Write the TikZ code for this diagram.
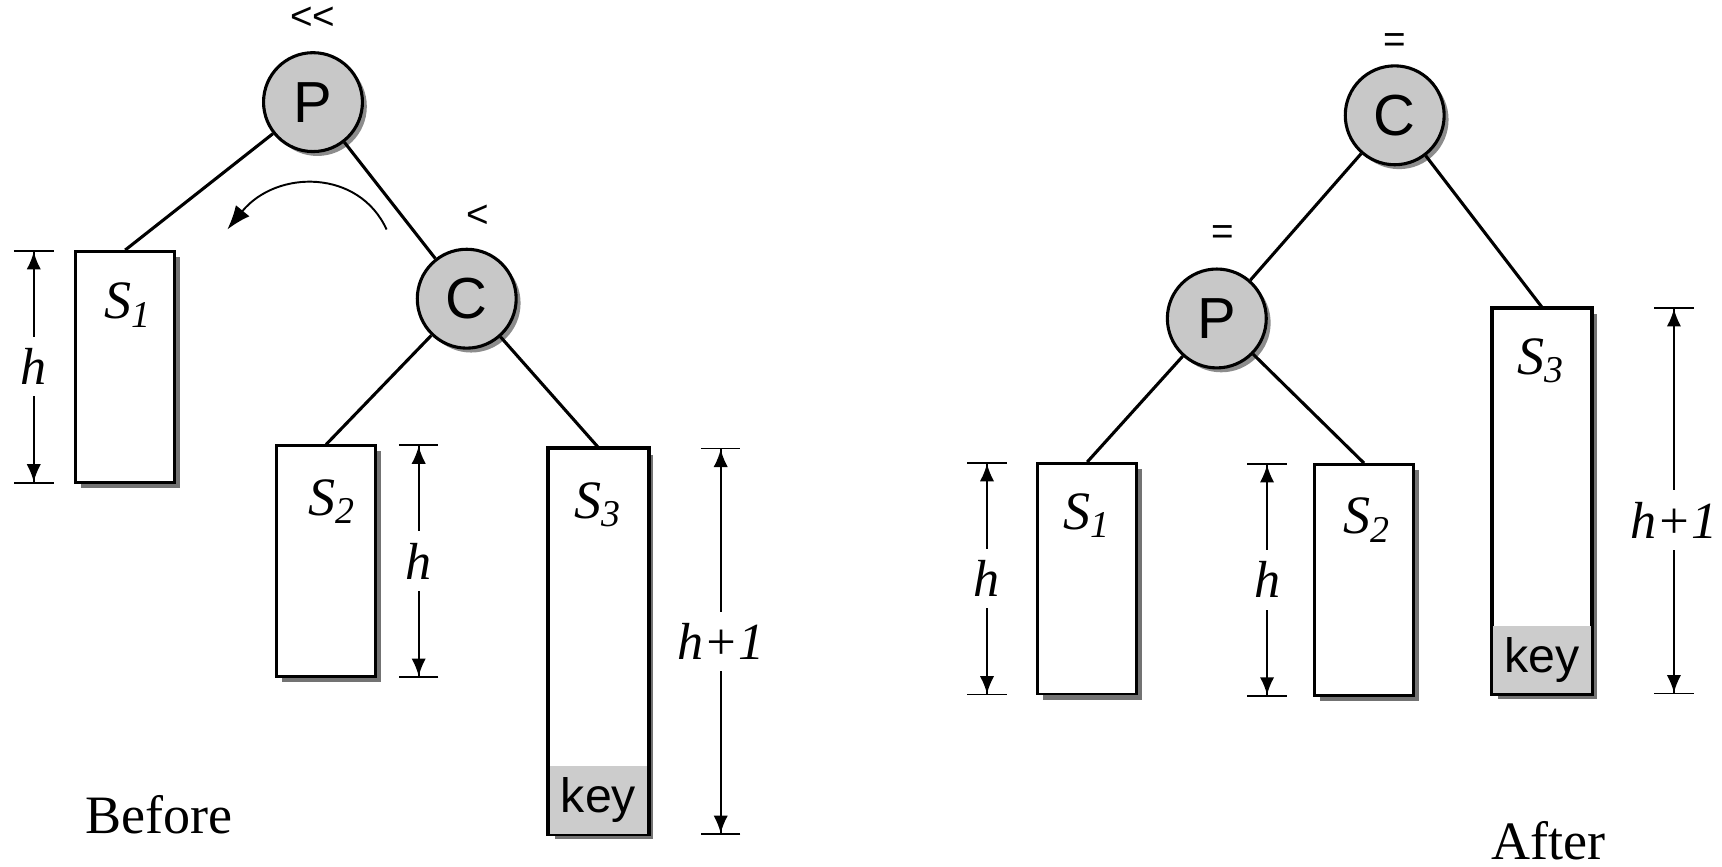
\documentclass[tikz,border=0pt]{standalone}
\usepackage{fontspec}
\setmainfont{Liberation Serif}
\setsansfont{Liberation Sans}
\usepackage{tikz}
\usetikzlibrary{arrows.meta, positioning, shadows, calc}
\definecolor{nodegray}{HTML}{C8C8C8}
\definecolor{keygray}{HTML}{CCCCCC}
\tikzset{
  treenode/.style={circle, draw=black, fill=nodegray, line width=0.8pt,
                 inner sep=0pt, minimum size=0.9cm, font=\sffamily\fontsize{15}{17}\selectfont,
                 drop shadow={shadow xshift=0.04cm, shadow yshift=-0.04cm, fill=black, opacity=0.45}},
  subtree/.style={rectangle, draw=black, fill=white, line width=0.7pt, inner sep=0pt,
                 minimum width=0.9cm,
                 drop shadow={shadow xshift=0.05cm, shadow yshift=-0.05cm, fill=black, opacity=0.55}},
  shortbox/.style={subtree, minimum height=2.1cm},
  tallbox/.style={subtree, minimum height=3.5cm},
  keypart/.style={fill=keygray, inner sep=0pt, minimum width=0.89cm, minimum height=0.62cm,
                 font=\sffamily\fontsize{12.5}{14}\selectfont},
  treename/.style={font=\itshape\fontsize{14}{16}\selectfont, inner sep=0pt},
  balance/.style={font=\sffamily\fontsize{10}{12}\selectfont, inner sep=0pt},
  edge/.style={line width=0.8pt},
  dimline/.style={line width=0.45pt,
                 {Bar[width=0.36cm]Latex[length=0.16cm,width=0.13cm]}-{Latex[length=0.16cm,width=0.13cm]Bar[width=0.36cm]}},
  dimlabel/.style={fill=white, inner xsep=1pt, inner ysep=3pt, font=\itshape\fontsize{13.5}{15}\selectfont},
  rotarrow/.style={line width=0.5pt, -{Latex[length=0.22cm,width=0.16cm]}},
  caption/.style={font=\fontsize{14}{16}\selectfont, inner sep=0pt},
}
\begin{document}
\begin{tikzpicture}[x=0.01cm, y=-0.01cm]
    \useasboundingbox (0,0) rectangle (1568,789);
    % Before: tree nodes
    \node[treenode] (Pb) at (285,93)  {P};
    \node[treenode] (Cb) at (425,272) {C};
    \node[balance, above=0.19cm of Pb] (balPb) {<{}<};
    \node[balance, above=0.18cm of Cb, xshift=0.1cm] (balCb) {<};
    % Before: subtrees
    \node[shortbox] (s1b) at (114,334) {};
    \node[shortbox] (s2b) at (297,511) {};
    \node[tallbox]  (s3b) at (545,584) {};
    \node[keypart, anchor=south] (keyb) at (s3b.south) {key};
    \draw[line width=0.7pt] (s3b.south west) rectangle (s3b.north east);
    \node[treename] (n1b) at ($(s1b.north)+(3,50)$) {S\textsubscript{1}};
    \node[treename] (n2b) at ($(s2b.north)+(6,52)$) {S\textsubscript{2}};
    \node[treename] (n3b) at ($(s3b.north)+(0,52)$) {S\textsubscript{3}};
    % Before: edges
    \draw[edge] (Pb) -- (s1b.north);
    \draw[edge] (Pb) -- (Cb);
    \draw[edge] (Cb) -- (s2b.north);
    \draw[edge] (Cb) -- (s3b.north);
    % Rotation arrow
    \coordinate (rotstart) at (352,209);
    \coordinate (rotend)   at (207,209);
    \draw[rotarrow] (rotstart) .. controls +(-25,-55) and +(45,-55) .. (rotend);
    % Before: heights
    \draw[dimline] ($(s1b.north west)+(-37,0)$) -- ($(s1b.south west)+(-37,0)$)
      node[dimlabel, midway] (hb1) {h};
    \draw[dimline] ($(s2b.north east)+(38,0)$) -- ($(s2b.south east)+(38,0)$)
      node[dimlabel, midway] (hb2) {h};
    \draw[dimline] ($(s3b.north east)+(65,0)$) -- ($(s3b.south east)+(65,0)$)
      node[dimlabel, midway] (hb3) {h+1};
    \node[caption] (before) at (145,742) {Before};

    % After: tree nodes
    \node[treenode] (Ca) at (1270,105) {C};
    \node[treenode] (Pa) at (1108,290) {P};
    \node[balance, above=0.10cm of Ca] (balCa) {=};
    \node[balance, above=0.20cm of Pa, xshift=0.05cm] (balPa) {=};
    % After: subtrees
    \node[shortbox] (s1a) at (990,527)  {};
    \node[shortbox] (s2a) at (1242,528) {};
    \node[tallbox]  (s3a) at (1404,456) {};
    \node[keypart, anchor=south] (keya) at (s3a.south) {key};
    \draw[line width=0.7pt] (s3a.south west) rectangle (s3a.north east);
    \node[treename] (n1a) at ($(s1a.north)+(0,49)$) {S\textsubscript{1}};
    \node[treename] (n2a) at ($(s2a.north)+(3,52)$) {S\textsubscript{2}};
    \node[treename] (n3a) at ($(s3a.north)+(0,49)$) {S\textsubscript{3}};
    % After: edges
    \draw[edge] (Ca) -- (Pa);
    \draw[edge] (Ca) -- (s3a.north);
    \draw[edge] (Pa) -- (s1a.north);
    \draw[edge] (Pa) -- (s2a.north);
    % After: heights
    \draw[dimline] ($(s1a.north west)+(-45,0)$) -- ($(s1a.south west)+(-45,0)$)
      node[dimlabel, midway] (ha1) {h};
    \draw[dimline] ($(s2a.north west)+(-42,0)$) -- ($(s2a.south west)+(-42,0)$)
      node[dimlabel, midway] (ha2) {h};
    \draw[dimline] ($(s3a.north east)+(74,0)$) -- ($(s3a.south east)+(74,0)$)
      node[dimlabel, pos=0.55] (ha3) {h+1};
    \node[caption] (after) at (1410,766) {After};
  \end{tikzpicture}
\end{document}
